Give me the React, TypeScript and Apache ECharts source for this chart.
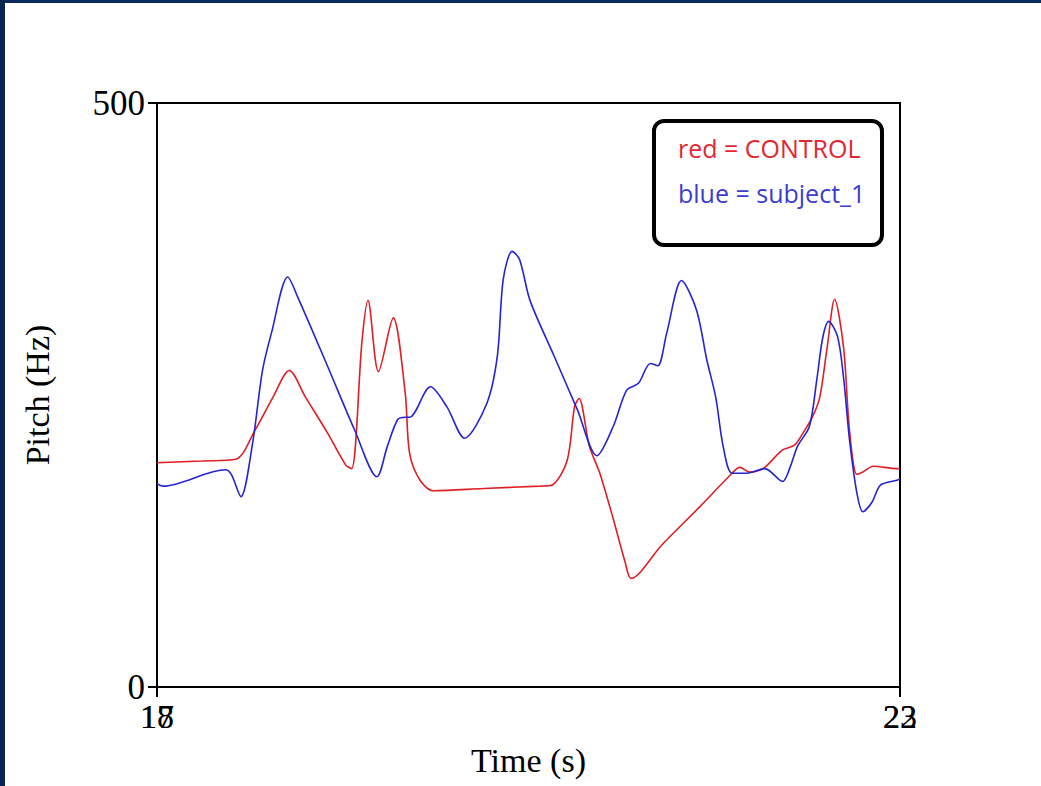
import React, { useEffect, useRef } from "react";
import * as echarts from "echarts";

// Time (s) and pitch (Hz) samples
const controlTime = [18.0, 18.3, 18.53, 18.66, 18.78, 18.89, 19.0, 19.15, 19.27, 19.31, 19.38, 19.42, 19.49, 19.59, 19.67, 19.7, 19.77, 19.86, 20.2, 20.58, 20.66, 20.76, 20.81, 20.84, 20.91, 20.98, 21.07, 21.15, 21.19, 21.4, 21.65, 21.87, 21.92, 21.99, 22.04, 22.09, 22.21, 22.29, 22.35, 22.41, 22.46, 22.51, 22.56, 22.62, 22.66, 22.71, 22.75, 22.82, 22.98, 23.0];
const controlPitch = [192, 193.5, 195, 220, 248, 271, 248, 217, 190, 187, 297, 331, 270, 316, 252, 200, 177, 168, 170, 172, 173, 194, 240, 247, 206, 183, 144, 107, 93, 122, 154, 183, 188, 184, 185, 188, 203, 207, 218, 231, 248, 291, 332, 291, 220, 182, 184, 189, 187, 187];

const subjectTime = [18.0, 18.04, 18.46, 18.5, 18.565, 18.64, 18.71, 18.77, 18.88, 18.95, 19.14, 19.33, 19.48, 19.55, 19.62, 19.67, 19.7, 19.84, 19.95, 20.07, 20.22, 20.29, 20.33, 20.39, 20.44, 20.51, 20.67, 20.83, 20.96, 21.07, 21.16, 21.24, 21.32, 21.37, 21.43, 21.53, 21.63, 21.7, 21.76, 21.81, 21.87, 21.97, 22.09, 22.21, 22.26, 22.31, 22.39, 22.44, 22.48, 22.52, 22.58, 22.62, 22.66, 22.71, 22.75, 22.81, 22.87, 22.98, 23.0];
const subjectPitch = [174, 172, 186, 182, 163, 206, 271, 303, 351, 333, 277, 220, 180, 206, 229, 231, 231, 257, 240, 213, 243, 283, 349, 373, 366, 331, 284, 237, 198, 223, 254, 260, 277, 275, 303, 348, 323, 280, 248, 206, 183, 183, 187, 176, 188, 206, 223, 263, 299, 313, 300, 265, 212, 166, 150, 158, 173, 177, 178];

const yTicks = [0, 500];
const xTicksA = [18, 23];
const xTicksB = [17, 22];

const legendLines = ["red = CONTROL", "blue = subject_1"];

const zip = (a: number[], b: number[]) => a.map((v, i) => [v, b[i]]);

export default function App() {
  const ref = useRef<HTMLDivElement>(null);
  useEffect(() => {
    if (!ref.current) return;
    const chart = echarts.init(ref.current, undefined, { renderer: "svg" });
    const serif = "'Liberation Serif', 'Times New Roman', serif";
    const sans = "'Open Sans', 'Noto Sans', sans-serif";
    chart.setOption({
      animation: false,
      backgroundColor: "#ffffff",
      grid: {
        left: 157,
        top: 103,
        right: 141,
        bottom: 99,
        show: true,
        borderColor: "#000",
        borderWidth: 2,
        backgroundColor: "transparent",
      },
      xAxis: [
        {
          type: "value",
          min: xTicksA[0],
          max: xTicksA[1],
          interval: xTicksA[1] - xTicksA[0],
          position: "bottom",
          name: "Time (s)",
          nameLocation: "middle",
          nameGap: 56,
          nameTextStyle: { fontFamily: serif, fontSize: 34, color: "#000" },
          axisLine: { show: true, lineStyle: { color: "#000", width: 2 } },
          axisTick: { show: true, length: 10, lineStyle: { color: "#000", width: 2 } },
          axisLabel: { fontFamily: serif, fontSize: 34, color: "#000", margin: 12, formatter: (v: number) => String(v) },
          splitLine: { show: false },
        },
        {
          type: "value",
          min: xTicksB[0],
          max: xTicksB[1],
          interval: xTicksB[1] - xTicksB[0],
          position: "bottom",
          axisLine: { show: false },
          axisTick: { show: false },
          axisLabel: { fontFamily: serif, fontSize: 34, color: "#000", margin: 12, formatter: (v: number) => String(v) },
          splitLine: { show: false },
        },
      ],
      yAxis: {
        type: "value",
        min: yTicks[0],
        max: yTicks[1],
        interval: yTicks[1] - yTicks[0],
        name: "Pitch (Hz)",
        nameLocation: "middle",
        nameGap: 103,
        nameRotate: 90,
        nameTextStyle: { fontFamily: serif, fontSize: 34, color: "#000" },
        axisLine: { show: true, lineStyle: { color: "#000", width: 2 } },
        axisTick: { show: true, length: 9, lineStyle: { color: "#000", width: 2 } },
        axisLabel: { fontFamily: serif, fontSize: 35, color: "#000", margin: 12 },
        splitLine: { show: false },
      },
      series: [
        {
          name: "CONTROL",
          type: "line",
          xAxisIndex: 0,
          data: zip(controlTime, controlPitch),
          smooth: 0.3,
          showSymbol: false,
          lineStyle: { color: "#e01e26", width: 1.6 },
        },
        {
          name: "subject_1",
          type: "line",
          xAxisIndex: 0,
          data: zip(subjectTime, subjectPitch),
          smooth: 0.3,
          showSymbol: false,
          lineStyle: { color: "#2424d4", width: 1.6 },
        },
      ],
      graphic: [
        { type: "rect", left: 0, top: 0, shape: { width: 1041, height: 3 }, style: { fill: "#0b2a5c" }, z: 10 },
        { type: "rect", left: 0, top: 0, shape: { width: 5, height: 786 }, style: { fill: "#0a2452" }, z: 10 },
        {
          type: "rect",
          left: 652,
          top: 119,
          shape: { width: 228, height: 124, r: 10 },
          style: { fill: "#fff", stroke: "#000", lineWidth: 4 },
          z: 20,
        },
        {
          type: "text",
          left: 678,
          top: 135,
          style: { text: legendLines[0], fill: "#e3262f", font: `25px ${sans}` },
          z: 21,
        },
        {
          type: "text",
          left: 678,
          top: 180,
          style: { text: legendLines[1], fill: "#3c3ccf", font: `25px ${sans}` },
          z: 21,
        },
      ],
    });
    return () => chart.dispose();
  }, []);
  return (
    <div
      ref={ref}
      style={{ position: "fixed", left: 0, top: 0, width: 1041, height: 786 }}
    />
  );
}
